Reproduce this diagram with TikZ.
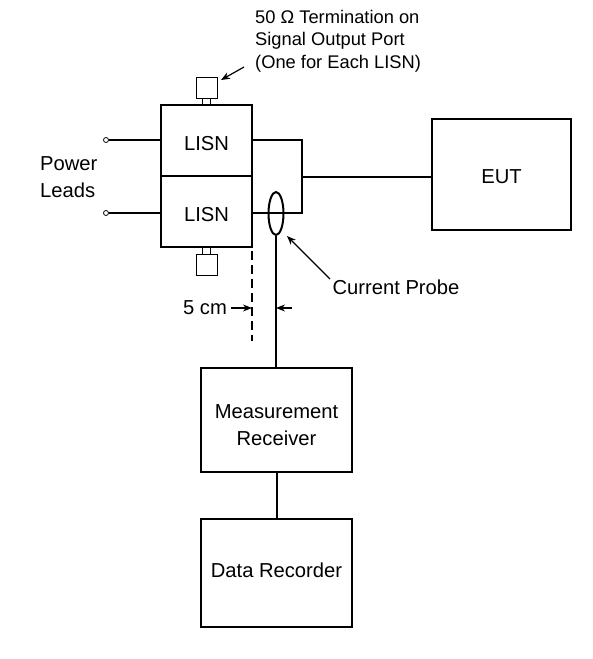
\documentclass[tikz,border=0pt]{standalone}
\usepackage{fontspec}
\setmainfont{Liberation Sans}
\usetikzlibrary{shapes.geometric,arrows.meta}
\begin{document}
\begin{tikzpicture}[x=1pt,y=-1pt,
  box/.style={draw,line width=1.2pt,rectangle,inner sep=0pt},
  txt/.style={font=\fontsize{20.2}{27}\selectfont,align=center,inner sep=0pt},
  term/.style={draw,line width=1pt,rectangle,inner sep=0pt,minimum width=21pt,minimum height=21pt},
  stem/.style={draw,line width=1pt,rectangle,inner sep=0pt,minimum width=8pt,minimum height=7pt},
  wire/.style={line width=2pt},
  lead/.style={draw,circle,line width=0.8pt,inner sep=0pt,minimum size=5pt,fill=white},
  lbl/.style={font=\fontsize{20.2}{27}\selectfont,align=left,inner sep=0pt},
  arr/.style={line width=1.2pt,-{Stealth[length=9pt,width=7pt]}}]
\useasboundingbox (0,0) rectangle (593,659);
% LISN boxes
\node[box,minimum width=91pt,minimum height=71pt] (l1) at (206.5,140.5) {};
\node[txt] (l1t) at (206.5,143.8) {LISN};
\node[box,minimum width=91pt,minimum height=71pt] (l2) at (206.5,211.5) {};
\node[txt] (l2t) at (206.5,214.2) {LISN};
% terminations
\node[stem] (s1) at (206,101.5) {};
\node[term] (t1) at (206.5,87.5) {};
\node[stem] (s2) at (206,250.5) {};
\node[term] (t2) at (206.5,264.5) {};
% power leads
\node[lead] (p1) at (106,140) {};
\node[lead] (p2) at (106,213) {};
\draw[wire] (p1) -- (l1.west |- p1);
\draw[wire] (p2) -- (l2.west |- p2);
\node[lbl,anchor=west] (pl) at (40,177) {Power\\Leads};
% EUT
\node[box,minimum width=139pt,minimum height=111pt] (eut) at (501.5,174.5) {};
\node[txt] (eutt) at (501.5,176.5) {EUT};
\coordinate (ja) at (302,140);
\coordinate (jb) at (302,213);
\coordinate (jc) at (302,177);
\draw[wire] (l1.east |- ja) -- (ja) -- (jb) -- (l2.east |- jb);
\draw[wire] (jc) -- (eut.west |- jc);
% current probe
\node[draw,ellipse,line width=2pt,minimum width=15pt,minimum height=43pt,inner sep=0pt] (cp) at (276,213.5) {};
% receiver and recorder
\node[box,minimum width=151pt,minimum height=104pt] (mr) at (276.5,420) {};
\node[txt] (mrt) at (276.5,424.8) {Measurement\\Receiver};
\node[box,minimum width=151pt,minimum height=108pt] (dr) at (276.5,573) {};
\node[txt] (drt) at (276.5,570.5) {Data Recorder};
\draw[wire] (cp.south) -- (cp.south |- mr.north);
\draw[wire] (mr.south) -- (dr.north);
% 5 cm marker
\coordinate (d1) at (252,251);
\coordinate (d2) at (252,341);
\draw[line width=2pt,dash pattern=on 9pt off 5pt] (d1) -- (d2);
\node[lbl] (fc) at (205,308) {5 cm};
\coordinate (fa) at (252,308);
\coordinate (fb) at (276,308);
\draw[arr] (fc.east) ++(4,0) -- (fa);
\draw[arr] (292,308) -- (fb);
% labels with arrows
\node[lbl] (cpl) at (396,287) {Current Probe};
\coordinate (cpa) at (330,279);
\coordinate (cpb) at (287,236);
\draw[line width=1.2pt,-{Stealth[length=9pt,width=7pt]}] (cpa) -- (cpb);
\node[lbl,anchor=west,font=\fontsize{18.3}{22.5}\selectfont] (tl) at (255,41) {50 Ω Termination on\\Signal Output Port\\(One for Each LISN)};
\coordinate (ta) at (244,67);
\coordinate (tb) at (221,80);
\draw[arr] (ta) -- (tb);
\end{tikzpicture}
\end{document}
